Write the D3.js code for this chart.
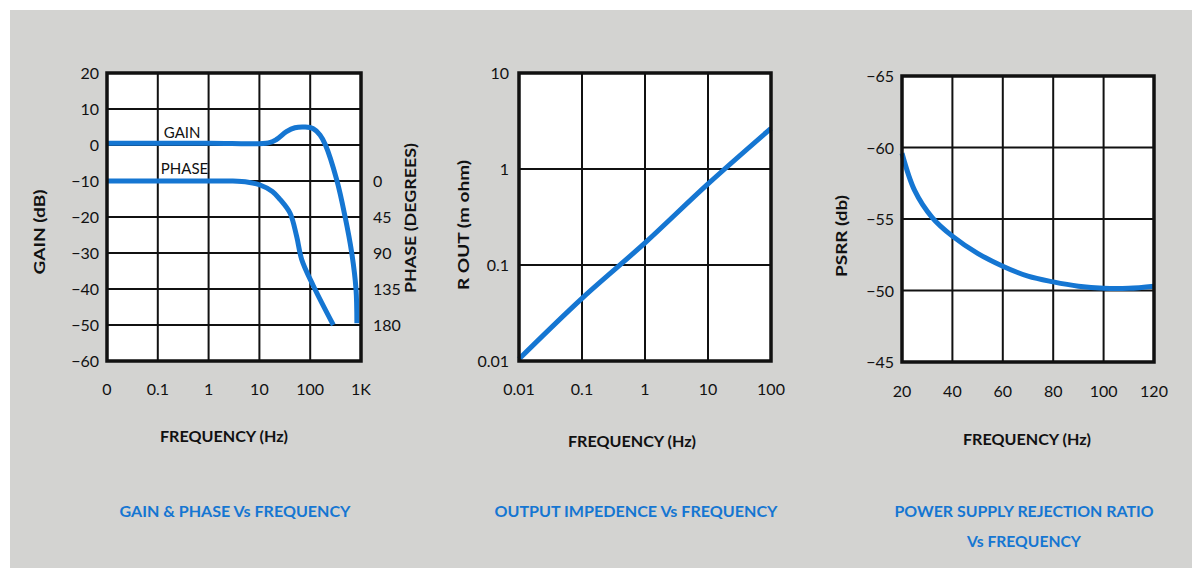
<!DOCTYPE html>
<html>
<head>
<meta charset="utf-8">
<script src="https://cdn.jsdelivr.net/npm/d3@7"></script>
<style>
  body { margin: 0; background: #fff; }
  svg { display: block; }
  text { font-family: Lato, "Open Sans", sans-serif; fill: #111; }
</style>
</head>
<body>
<svg id="chart" width="1192" height="568"></svg>
<script>
// gain & phase vs frequency
const gainFreq = [0.01, 1, 15, 22, 34, 50, 79, 113, 156, 200, 333, 484, 656, 797, 830];
const gainDb   = [0.5, 0.5, 0.6, 1.6, 3.7, 4.8, 5.0, 4.6, 2.8, 0.0, -9.7, -19.8, -29.9, -40, -49.5];
const phaseFreq = [0.01, 1, 3, 6, 10.3, 18, 25.5, 40, 54, 68, 115, 285];
const phaseDeg  = [0, 0, 0, 1.5, 5, 13, 23, 40, 69, 98, 131, 180];
const gainTicks = [20, 10, 0, -10, -20, -30, -40, -50, -60];
const phaseTicks = [0, 45, 90, 135, 180];
const gpFreqTicks = [0.01, 0.1, 1, 10, 100, 1000];
const gpFreqLabels = ["0", "0.1", "1", "10", "100", "1K"];

// output impedance
const routFreq = [0.01, 0.1, 1, 10, 100];
const routVal  = [0.0105, 0.045, 0.17, 0.7, 2.65];
const routTicks = [0.01, 0.1, 1, 10];
const routFreqTicks = [0.01, 0.1, 1, 10, 100];

// PSRR
const psrrFreq = [20, 25, 32, 40, 50, 60, 70, 80, 90, 100, 110, 120];
const psrrDb   = [-59.6, -57.0, -55.1, -53.8, -52.6, -51.7, -51.0, -50.6, -50.3, -50.15, -50.15, -50.3];
const psrrTicks = [-65, -60, -55, -50, -45];
const psrrFreqTicks = [20, 40, 60, 80, 100, 120];

const titles = ["GAIN & PHASE Vs FREQUENCY", "OUTPUT IMPEDENCE Vs FREQUENCY", "POWER SUPPLY REJECTION RATIO", "Vs FREQUENCY"];

const blue = "#1576d2";
const svg = d3.select("#chart");

svg.append("rect").attr("x", 10).attr("y", 10).attr("width", 1182).attr("height", 558).attr("fill", "#d3d3d1");

function fmt(v) { return String(v).replace("-", "\u2212"); }

function frame(g, x, y, xTicks, yTicks) {
    let [x0, x1] = x.range(), [y1, y0] = y.range();
    g.append("rect").attr("x", x0).attr("y", y0).attr("width", x1 - x0).attr("height", y1 - y0).attr("fill", "#fff");
    xTicks.forEach(t => g.append("line").attr("x1", x(t)).attr("x2", x(t)).attr("y1", y0).attr("y2", y1)
        .attr("stroke", "#111").attr("stroke-width", 2));
    yTicks.forEach(t => g.append("line").attr("x1", x0).attr("x2", x1).attr("y1", y(t)).attr("y2", y(t))
        .attr("stroke", "#111").attr("stroke-width", 2));
}

function border(g, x, y) {
    let [x0, x1] = x.range(), [y1, y0] = y.range();
    g.append("rect").attr("x", x0).attr("y", y0).attr("width", x1 - x0).attr("height", y1 - y0)
        .attr("fill", "none").attr("stroke", "#111").attr("stroke-width", 3.5);
}

function curve(g, xs, ys, x, y) {
    let line = d3.line().x(d => x(d[0])).y(d => y(d[1])).curve(d3.curveCatmullRom.alpha(0.5));
    g.append("path").attr("d", line(d3.zip(xs, ys))).attr("fill", "none")
        .attr("stroke", blue).attr("stroke-width", 5).attr("stroke-linecap", "butt");
}

function yLabels(g, y, ticks, xr, labels) {
    ticks.forEach((t, i) => g.append("text").attr("x", xr).attr("y", y(t) + 6)
        .attr("text-anchor", "end").attr("font-size", 16).text(labels ? labels[i] : fmt(t)));
}

function xLabels(g, x, ticks, yb, labels) {
    ticks.forEach((t, i) => g.append("text").attr("x", x(t)).attr("y", yb)
        .attr("text-anchor", "middle").attr("font-size", 16).text(labels ? labels[i] : fmt(t)));
}

function vLabel(g, text, cx, cy, len) {
    g.append("text").attr("transform", `translate(${cx},${cy}) rotate(-90)`)
        .attr("text-anchor", "middle").attr("font-size", 15).attr("font-weight", "bold")
        .attr("textLength", len).attr("lengthAdjust", "spacingAndGlyphs").text(text);
}

function hLabel(g, text, cx, yb, len, color, size) {
    g.append("text").attr("x", cx).attr("y", yb).attr("text-anchor", "middle")
        .attr("font-size", size).attr("font-weight", "bold").style("fill", color)
        .attr("textLength", len).attr("lengthAdjust", "spacingAndGlyphs").text(text);
}

// ---- chart 1: gain & phase
let g1 = svg.append("g");
let x1 = d3.scaleLog().domain([0.01, 1000]).range([107, 361]);
let y1 = d3.scaleLinear().domain([-60, 20]).range([361, 73]);
let p1 = d3.scaleLinear().domain([0, 180]).range([y1(-10), y1(-50)]);
frame(g1, x1, y1, gpFreqTicks.slice(1, -1), gainTicks.slice(1, -1));
curve(g1, gainFreq, gainDb, x1, y1);
curve(g1, phaseFreq, phaseDeg, x1, p1);
border(g1, x1, y1);
g1.append("text").attr("x", x1(0.1) + 6).attr("y", y1(0) - 7).attr("font-size", 15).text("GAIN");
g1.append("text").attr("x", x1(0.1) + 3).attr("y", y1(-10) - 7).attr("font-size", 15).text("PHASE");
yLabels(g1, y1, gainTicks, 99);
phaseTicks.forEach(t => g1.append("text").attr("x", 373).attr("y", p1(t) + 6)
    .attr("font-size", 16).text(t));
xLabels(g1, x1, gpFreqTicks, 395, gpFreqLabels);
vLabel(g1, "GAIN (dB)", 45, 232, 85);
vLabel(g1, "PHASE (DEGREES)", 416, 218, 150);
hLabel(g1, "FREQUENCY (Hz)", 224, 442, 128, "#111", 15);
hLabel(g1, titles[0], 235, 517, 231, blue, 16);

// ---- chart 2: output impedance
let g2 = svg.append("g");
let x2 = d3.scaleLog().domain([0.01, 100]).range([519, 771]);
let y2 = d3.scaleLog().domain([0.01, 10]).range([361, 73]);
frame(g2, x2, y2, routFreqTicks.slice(1, -1), routTicks.slice(1, -1));
curve(g2, routFreq, routVal, x2, y2);
border(g2, x2, y2);
yLabels(g2, y2, routTicks, 509);
xLabels(g2, x2, routFreqTicks, 395);
vLabel(g2, "R OUT (m ohm)", 469, 225, 130);
hLabel(g2, "FREQUENCY (Hz)", 632, 447, 128, "#111", 15);
hLabel(g2, titles[1], 636, 517, 283, blue, 16);

// ---- chart 3: PSRR
let g3 = svg.append("g");
let x3 = d3.scaleLinear().domain([20, 120]).range([902, 1154]);
let y3 = d3.scaleLinear().domain([-45, -65]).range([362, 76]);
frame(g3, x3, y3, psrrFreqTicks.slice(1, -1), psrrTicks.slice(1, -1));
curve(g3, psrrFreq, psrrDb, x3, y3);
border(g3, x3, y3);
yLabels(g3, y3, psrrTicks, 894);
xLabels(g3, x3, psrrFreqTicks, 397);
vLabel(g3, "PSRR (db)", 847, 236, 82);
hLabel(g3, "FREQUENCY (Hz)", 1027, 445, 128, "#111", 15);
hLabel(g3, titles[2], 1024, 517, 259, blue, 16);
hLabel(g3, titles[3], 1024, 547, 114, blue, 16);
</script>
</body>
</html>
